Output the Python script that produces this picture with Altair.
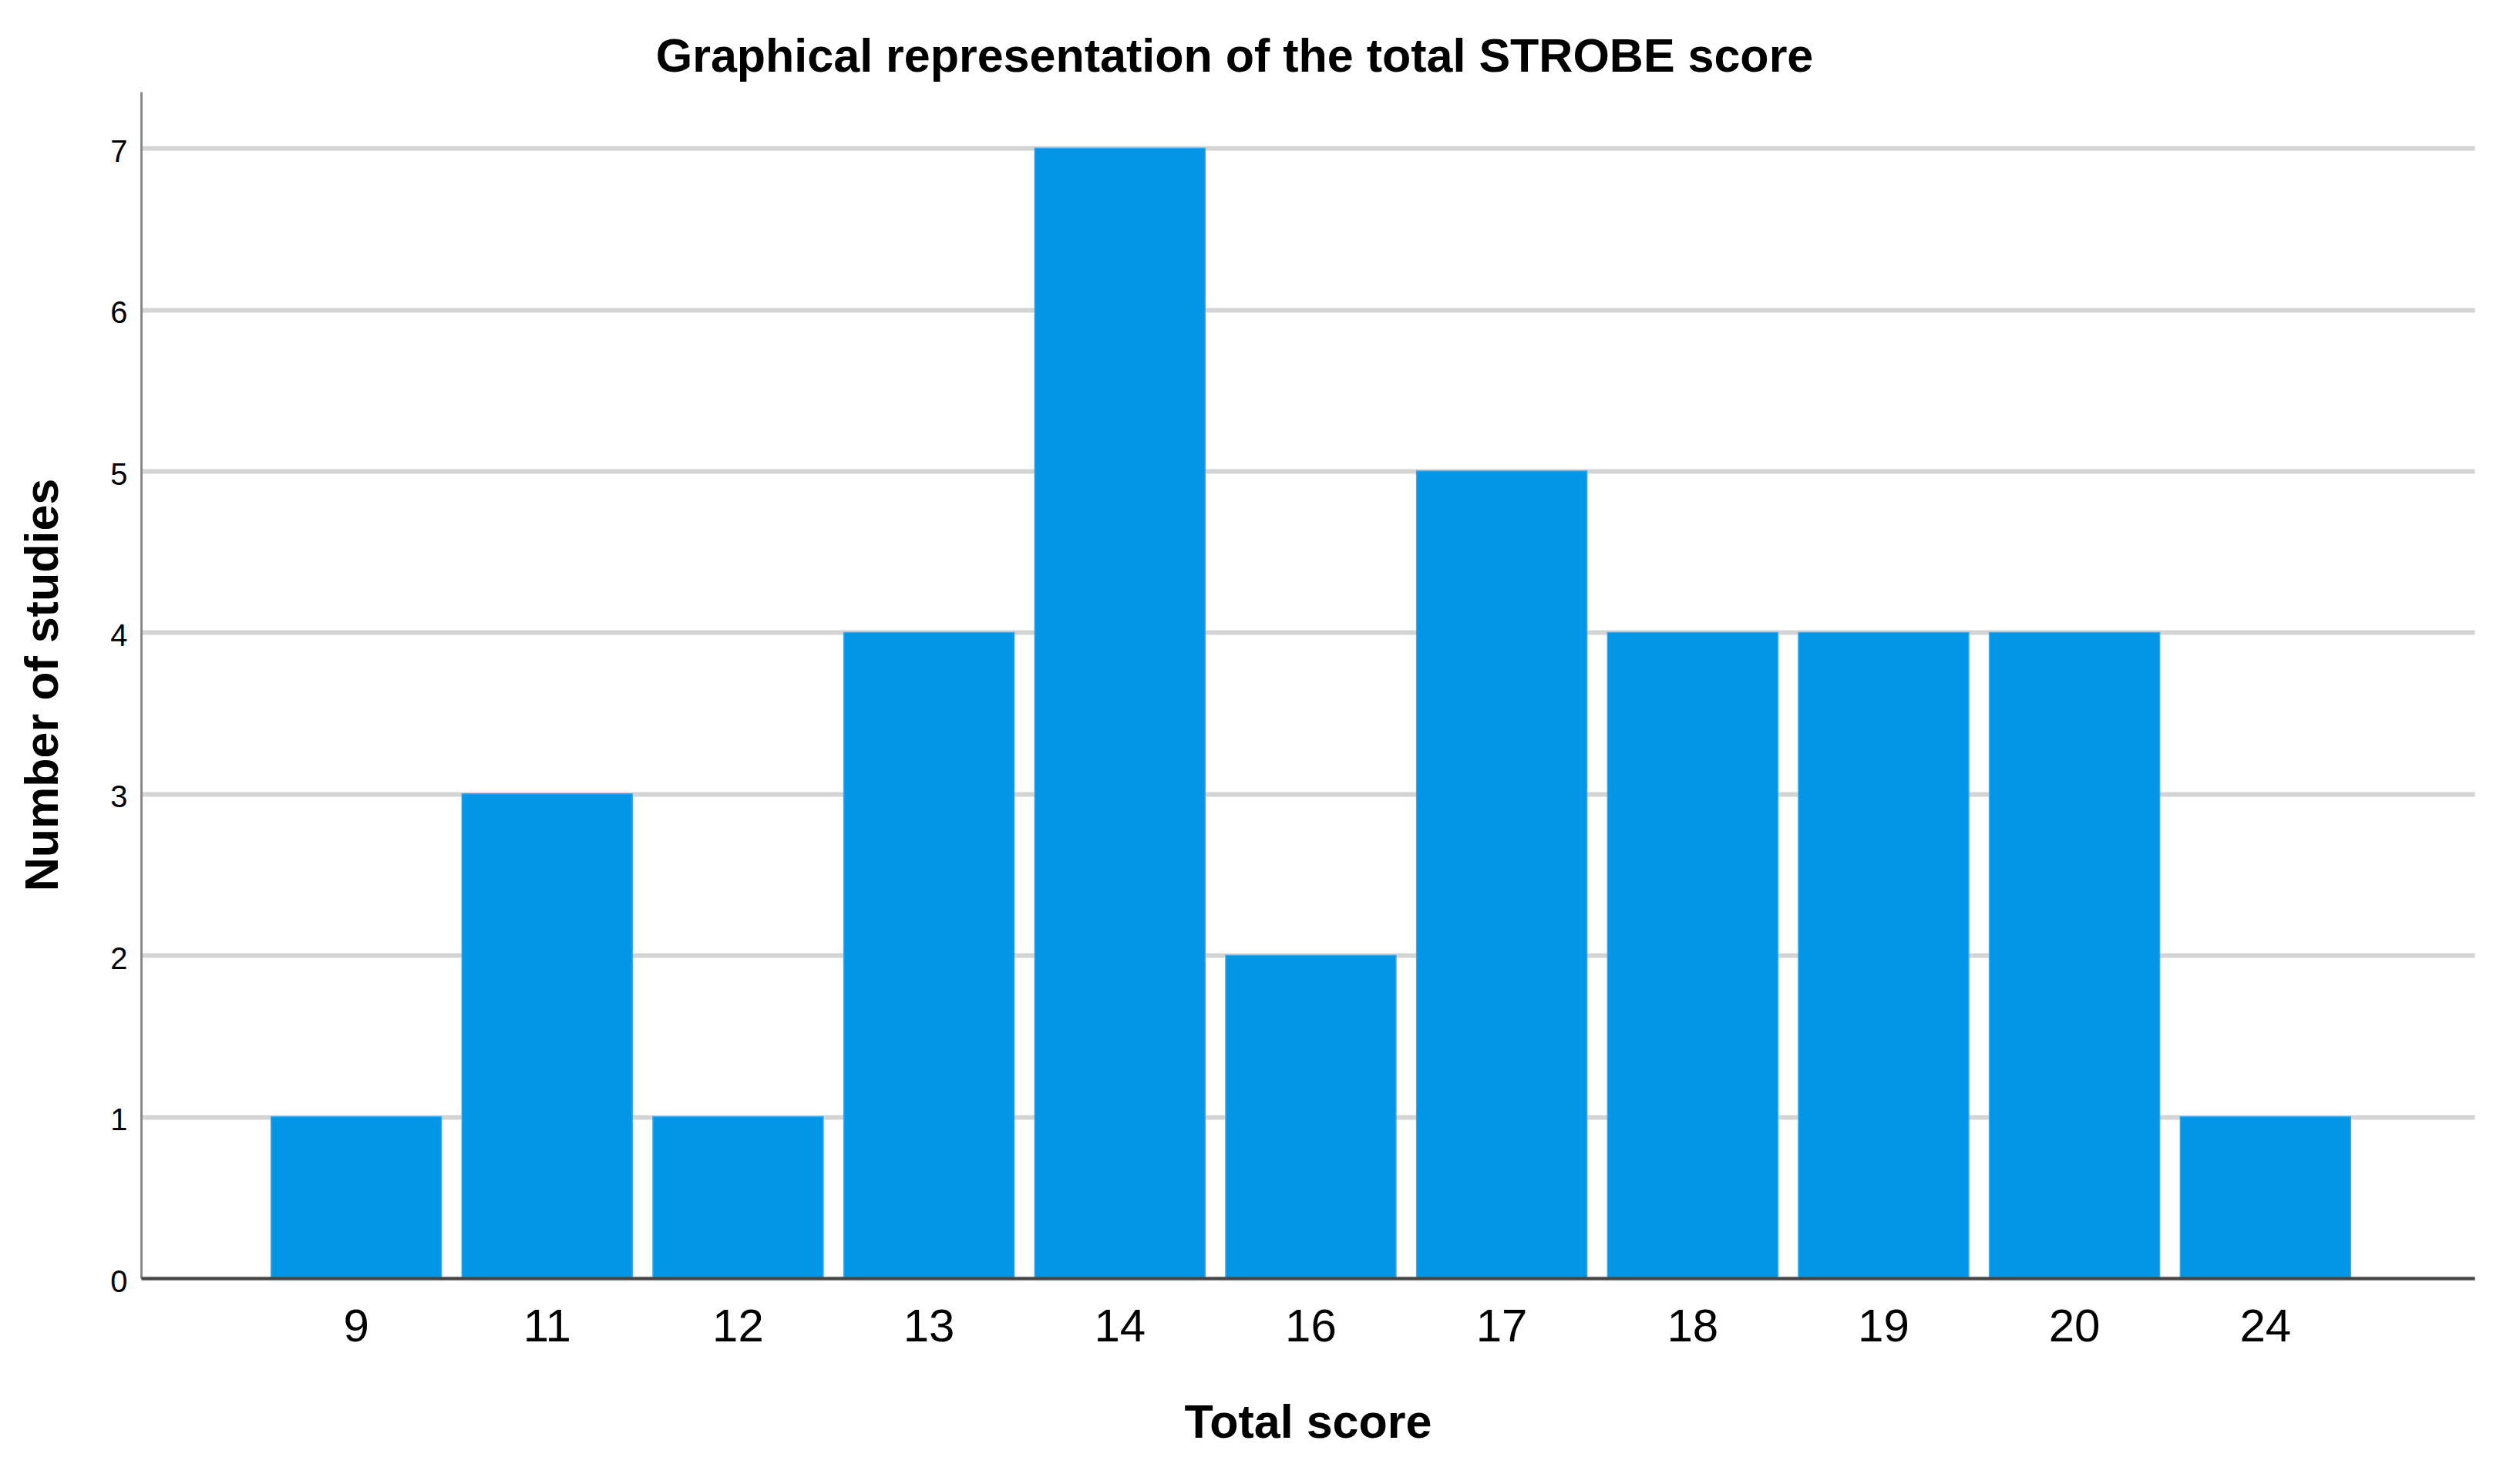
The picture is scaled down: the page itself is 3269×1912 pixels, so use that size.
import altair as alt
import pandas as pd

scores = ["9", "11", "12", "13", "14", "16", "17", "18", "19", "20", "24"]
counts = [1, 3, 1, 4, 7, 2, 5, 4, 4, 4, 1]

df = pd.DataFrame({"score": scores, "count": counts})

FONT = "Liberation Sans"

chart = (
    alt.Chart(df)
    .mark_bar(color="#0396e6", stroke="#3aa6ea", strokeWidth=1.5)
    .encode(
        x=alt.X(
            "score:N",
            sort=scores,
            scale=alt.Scale(paddingInner=0.108, paddingOuter=0.665, align=0.512),
            axis=alt.Axis(
                title="Total score",
                labelAngle=0,
                labelFont=FONT,
                labelFontSize=60,
                labelColor="#000000",
                labelPadding=34,
                ticks=False,
                domainColor="#444444",
                domainWidth=4,
                titleFont=FONT,
                titleFontSize=61,
                titleFontWeight="bold",
                titleColor="#000000",
                titleBaseline="alphabetic",
                titleY=206,
                zindex=1,
            ),
        ),
        y=alt.Y(
            "count:Q",
            scale=alt.Scale(domain=[0, 7.35], nice=False),
            axis=alt.Axis(
                title="Number of studies",
                values=[0, 1, 2, 3, 4, 5, 6, 7],
                format="d",
                labelFont=FONT,
                labelFontSize=40,
                labelColor="#000000",
                labelPadding=18,
                labelOffset=5,
                ticks=False,
                domainColor="#888888",
                domainWidth=3,
                grid=True,
                gridColor="#d4d4d4",
                gridWidth=6,
                titleFont=FONT,
                titleFontSize=61,
                titleFontWeight="bold",
                titleColor="#000000",
                titleAngle=270,
                titleAlign="center",
                titleBaseline="middle",
                titleX=-127,
                titleY=769,
            ),
        ),
    )
    .properties(
        width=3027,
        height=1539,
        title=alt.TitleParams(
            text="Graphical representation of the total STROBE score",
            font=FONT,
            fontSize=61,
            fontWeight="bold",
            color="#000000",
            anchor="middle",
            dx=-95,
            offset=13,
        ),
        autosize=alt.AutoSizeParams(type="none"),
        padding={"left": 175, "top": 111, "right": 50, "bottom": 240},
        background="white",
    )
    .configure_view(stroke=None)
)

chart.save("out.html", embed_options={"renderer": "svg", "actions": False})
